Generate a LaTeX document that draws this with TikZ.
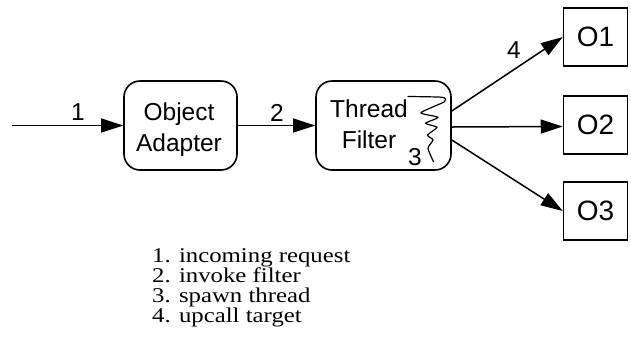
\documentclass[tikz,border=0pt]{standalone}
\usepackage{fontspec}
\setmainfont{Liberation Serif}
\setsansfont{Liberation Sans}
\usetikzlibrary{arrows.meta,calc}
% keep the tight legend line spacing exactly as set
\lineskiplimit=-30pt\relax

\begin{document}
\begin{tikzpicture}[x=1pt,y=-1pt,
  lbl/.style={font=\sffamily\fontsize{24.5}{31}\selectfont, inner sep=0pt},
  procbox/.style={draw, line width=1.6pt, rounded corners=16pt,
    minimum width=113pt, minimum height=89pt, inner sep=0pt},
  objbox/.style={draw, line width=1.5pt, minimum width=64pt, minimum height=58pt,
    inner sep=0pt, font=\sffamily\fontsize{28}{30}\selectfont},
  flow/.style={line width=1.5pt, -{Triangle[length=22pt,width=14pt]}},
  legend/.style={font=\rmfamily\fontsize{21}{20}\selectfont,
    align=left, anchor=north west, inner sep=0pt}]

\useasboundingbox (0,0) rectangle (631,360);

% processing stages
\node[procbox] (oa) at (180.5,125.5) {};
\node[lbl, align=center] (oat) at (179,130) {Object\\Adapter};
\node[procbox, minimum width=135pt] (tf) at (383.5,125.5) {};
\node[lbl, align=center] (tft) at (369,124) {Thread\\Filter};

% target objects
\node[objbox] (o1) at (595.5,37) {O1};
\node[objbox] (o2) at (595.5,125) {O2};
\node[objbox] (o3) at (595.5,211) {O3};

% connectors
\coordinate (src) at (12,125.5);
\draw[flow] (src) -- (oa.west);
\draw[flow] (oa.east) -- (tf.west);
\draw[flow] ($(tf.east)+(0,-14.5)$) -- (o1.west);
\draw[flow] ($(tf.east)+(0,1.5)$) -- ($(o2.west)+(0,1.5)$);
\draw[flow] ($(tf.east)+(0,14.5)$) -- (o3.west);

% spawned thread
\draw[line width=1.2pt, line join=round, line cap=round]
  plot[smooth, tension=0.35] coordinates {(408,96.5) (442.5,97.3) (444.5,101.7)
    (421,112.7) (438,117.3) (425.5,123.3) (437,127.3) (427.5,135) (433,140)
    (428,148.3) (433.5,161.7)};

% step numbers
\node[lbl] (n1) at (78,112) {1};
\node[lbl] (n2) at (277,113) {2};
\node[lbl] (n3) at (415,157.5) {3};
\node[lbl] (n4) at (514,50) {4};

% legend
\node[legend] (leg) at (152,248.5) {%
  \scalebox{1.18}[1]{1. incoming request}\\
  \scalebox{1.18}[1]{2. invoke filter}\\
  \scalebox{1.18}[1]{3. spawn thread}\\
  \scalebox{1.18}[1]{4. upcall target}};
\end{tikzpicture}
\end{document}
